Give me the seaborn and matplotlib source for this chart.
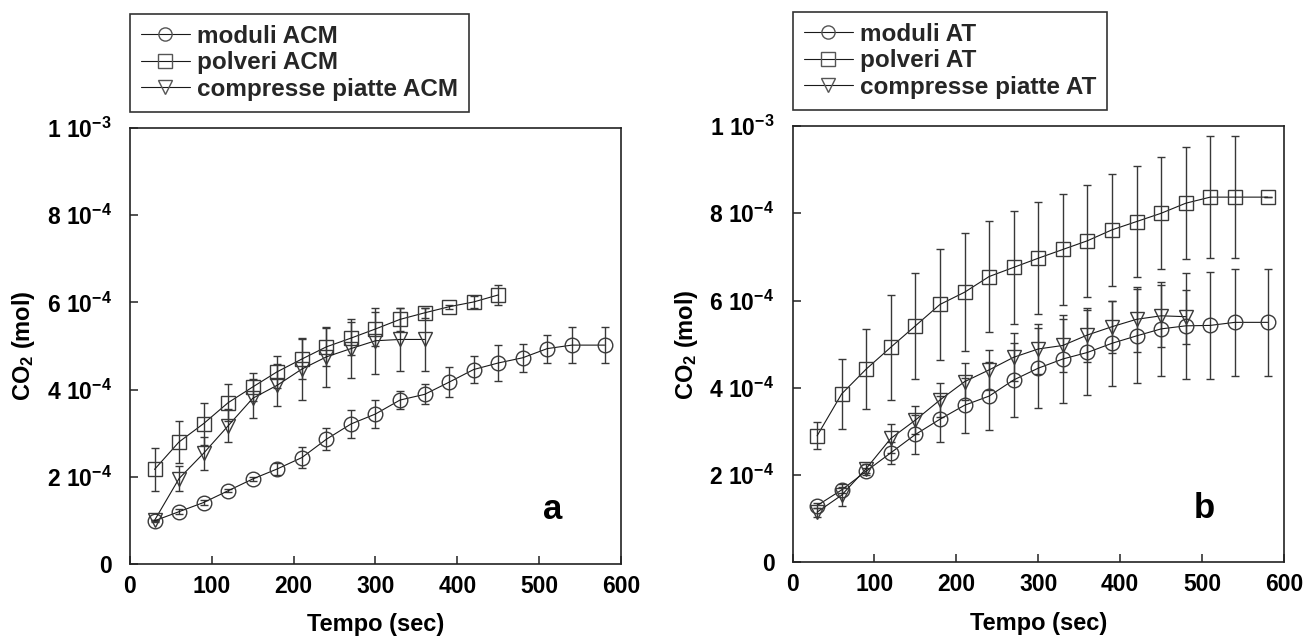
import matplotlib
matplotlib.use("Agg")
import matplotlib.pyplot as plt
from matplotlib.lines import Line2D
import seaborn as sns

# ---------------- data (values in units of 1e-4 mol) ----------------
t_mod_acm = [30, 60, 90, 120, 150, 180, 210, 240, 270, 300, 330, 360, 390, 420, 450, 480, 510, 540, 580]
mod_acm = [0.99, 1.20, 1.41, 1.68, 1.95, 2.18, 2.44, 2.86, 3.21, 3.44, 3.76, 3.89, 4.17, 4.46, 4.61, 4.73, 4.94, 5.02, 5.02]
mod_acm_err = [0.02, 0.06, 0.06, 0.04, 0.05, 0.14, 0.24, 0.25, 0.32, 0.32, 0.20, 0.23, 0.35, 0.31, 0.42, 0.32, 0.32, 0.41, 0.41]

t_pol_acm = [30, 60, 90, 120, 150, 180, 210, 240, 270, 300, 330, 360, 390, 420, 450]
pol_acm = [2.17, 2.80, 3.22, 3.70, 4.06, 4.41, 4.70, 4.98, 5.18, 5.39, 5.61, 5.76, 5.90, 6.01, 6.17]
pol_acm_err = [0.50, 0.49, 0.48, 0.42, 0.32, 0.37, 0.45, 0.43, 0.38, 0.39, 0.27, 0.12, 0.05, 0.13, 0.24]

t_cp_acm = [30, 60, 90, 120, 150, 180, 210, 240, 270, 300, 330, 360]
cp_acm = [1.00, 1.96, 2.54, 3.17, 3.80, 4.10, 4.47, 4.75, 4.94, 5.12, 5.15, 5.15]
cp_acm_err = [0.02, 0.29, 0.38, 0.38, 0.45, 0.48, 0.72, 0.68, 0.68, 0.76, 0.73, 0.73]

t_mod_at = [30, 60, 90, 120, 150, 180, 210, 240, 270, 300, 330, 360, 390, 420, 450, 480, 510, 540, 580]
mod_at = [1.30, 1.66, 2.09, 2.51, 2.93, 3.28, 3.60, 3.81, 4.18, 4.45, 4.66, 4.81, 5.02, 5.19, 5.35, 5.42, 5.43, 5.50, 5.50]
mod_at_err = [0.05, 0.06, 0.08, 0.25, 0.44, 0.53, 0.63, 0.78, 0.84, 0.92, 1.00, 0.98, 0.98, 1.07, 1.07, 1.22, 1.22, 1.22, 1.22]

t_pol_at = [30, 60, 90, 120, 150, 180, 210, 240, 270, 300, 330, 360, 390, 420, 450, 480, 510, 540, 580]
pol_at = [2.90, 3.86, 4.43, 4.93, 5.42, 5.91, 6.19, 6.55, 6.76, 6.97, 7.17, 7.37, 7.62, 7.81, 8.00, 8.23, 8.37, 8.37, 8.37]
pol_at_err = [0.31, 0.80, 0.91, 1.20, 1.22, 1.28, 1.35, 1.28, 1.29, 1.28, 1.28, 1.28, 1.28, 1.28, 1.28, 1.28, 1.40, 1.40, 0.0]

t_cp_at = [30, 60, 90, 120, 150, 180, 210, 240, 270, 300, 330, 360, 390, 420, 450, 480]
cp_at = [1.15, 1.54, 2.15, 2.84, 3.26, 3.72, 4.14, 4.41, 4.70, 4.89, 4.97, 5.21, 5.40, 5.57, 5.65, 5.63]
cp_at_err = [0.10, 0.25, 0.10, 0.33, 0.32, 0.40, 0.42, 0.46, 0.55, 0.57, 0.61, 0.61, 0.60, 0.74, 0.71, 0.62]

labels_a = ["moduli ACM", "polveri ACM", "compresse piatte ACM"]
labels_b = ["moduli AT", "polveri AT", "compresse piatte AT"]
x_ticks = [0, 100, 200, 300, 400, 500, 600]
y_ticks = [0, 2e-4, 4e-4, 6e-4, 8e-4, 1e-3]
y_ticklabels = ["0", "2 10$^{-4}$", "4 10$^{-4}$", "6 10$^{-4}$", "8 10$^{-4}$", "1 10$^{-3}$"]

SCALE = 1e-4

# ---------------- style ----------------
sns.set_theme(style="ticks")
plt.rcParams['font.family'] = ['Liberation Sans', 'DejaVu Sans']
plt.rcParams['font.weight'] = 'bold'
plt.rcParams['mathtext.default'] = 'regular'
plt.rcParams['axes.unicode_minus'] = False

LINE_C = '#1a1a1a'
EDGE_C = '#3a3a3a'
ERR_C = '#383838'
markers = ['o', 's', 'v']

fig = plt.figure(figsize=(13.05, 6.39), dpi=100)
ax1 = fig.add_axes([0.0996, 0.1174, 0.3762, 0.6823])
ax2 = fig.add_axes([0.6073, 0.1200, 0.3766, 0.6828])


def draw(ax, series, labels, letter, letter_xy, leg_anchor):
    for (t, v, e), mk in zip(series, markers):
        y = [val * SCALE for val in v]
        yerr = [val * SCALE for val in e]
        ax.errorbar(t, y, yerr=yerr, fmt='none', ecolor=ERR_C, elinewidth=1.0,
                    capsize=3, capthick=1.0, zorder=2)
        sns.lineplot(x=t, y=y, ax=ax, color=LINE_C, linewidth=0.8, marker=mk,
                     markersize=10.5, markerfacecolor='none', markeredgecolor=EDGE_C,
                     markeredgewidth=1.0, zorder=3, legend=False)
    ax.set_xlim(0, 600)
    ax.set_ylim(0, 1e-3)
    ax.set_xticks(x_ticks)
    ax.set_xticklabels([str(v) for v in x_ticks])
    ax.set_yticks(y_ticks)
    ax.set_yticklabels(y_ticklabels)
    ax.tick_params(direction='in', length=6, width=1.1, color='#222222',
                   labelsize=16.5, top=False, right=False)
    ax.tick_params(axis='y', pad=13)
    ax.tick_params(axis='x', pad=8)
    for lab in ax.get_xticklabels() + ax.get_yticklabels():
        lab.set_fontweight('bold')
        lab.set_color('black')
    for sp in ax.spines.values():
        sp.set_visible(True)
        sp.set_linewidth(1.2)
        sp.set_color('#222222')
    ax.set_xlabel("Tempo (sec)", fontsize=17, fontweight='bold', labelpad=11, color='black')
    ax.set_ylabel("CO$_2$ (mol)", fontsize=17, fontweight='bold', labelpad=7, color='black')
    ax.text(letter_xy[0], letter_xy[1], letter, fontsize=25, fontweight='bold',
            ha='center', va='center', color='black')
    handles = [Line2D([], [], color=LINE_C, linewidth=0.8, marker=mk, markersize=9.5,
                      markerfacecolor='none', markeredgecolor='#555555', markeredgewidth=1.0)
               for mk in markers]
    leg = ax.legend(handles, labels, loc='upper left', bbox_to_anchor=leg_anchor,
                    bbox_transform=fig.transFigure, borderaxespad=0, frameon=True,
                    fancybox=False, edgecolor='black', handlelength=2.0,
                    handletextpad=0.3, labelspacing=0.14, borderpad=0.45,
                    prop={'weight': 'bold', 'size': 17.5})
    leg.get_frame().set_linewidth(1.2)
    leg.get_frame().set_facecolor('white')


draw(ax1,
     [(t_mod_acm, mod_acm, mod_acm_err), (t_pol_acm, pol_acm, pol_acm_err), (t_cp_acm, cp_acm, cp_acm_err)],
     labels_a, 'a', (516, 1.24e-4), (130 / 1305, 1 - 14 / 639))
draw(ax2,
     [(t_mod_at, mod_at, mod_at_err), (t_pol_at, pol_at, pol_at_err), (t_cp_at, cp_at, cp_at_err)],
     labels_b, 'b', (503, 1.24e-4), (793 / 1305, 1 - 12 / 639))

fig.savefig("out.png", dpi=100, facecolor='white')
